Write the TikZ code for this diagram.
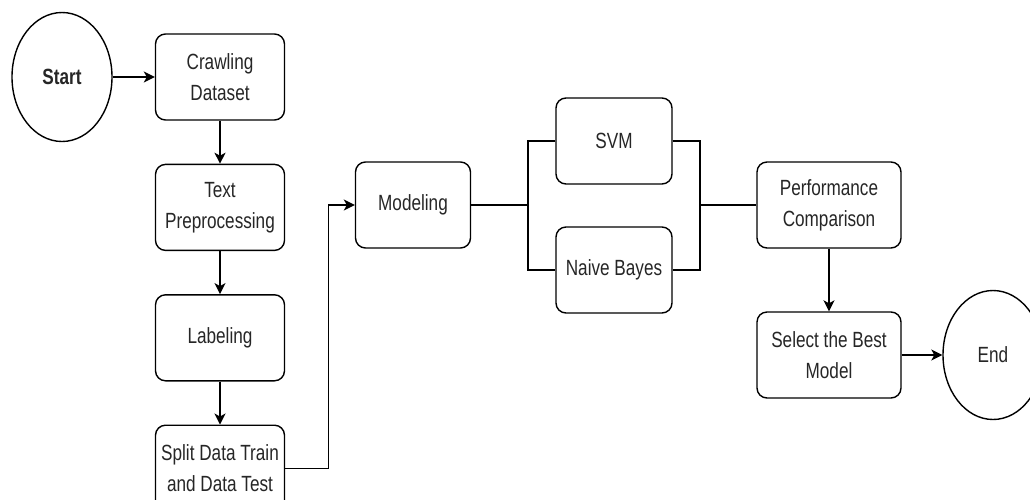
\documentclass[tikz,border=0pt]{standalone}
\usepackage{fontspec}
\setmainfont[FakeStretch=0.78]{Liberation Sans}
\usetikzlibrary{positioning,arrows.meta,shapes.geometric}

\tikzset{
  box/.style={draw, line width=1.4pt, rounded corners=10pt, minimum width=129pt,
    minimum height=86pt, align=center, inner sep=2pt, text=black!85,
    font=\fontsize{22}{31}\selectfont},
  terminal/.style={ellipse, draw, line width=1.4pt, minimum width=100pt,
    minimum height=129pt, inner sep=0pt, text=black!85,
    font=\fontsize{22}{31}\selectfont},
  link/.style={line width=1.4pt},
  flow/.style={link, -{Stealth[length=11pt,width=11pt,inset=3pt]}},
}

\begin{document}
\begin{tikzpicture}[x=1pt, y=-1pt]
    \clip (0,0) rectangle (1030,499);

    % Start and data preparation
    \node[terminal] (start) at (62,77) {\bfseries Start};
    \node[box] (crawl) at (220,77) {Crawling\\Dataset};
    \node[box, below=43pt of crawl] (prep) {Text\\Preprocessing};
    \node[box, below=43pt of prep] (label) {Labeling};
    \node[box, below=43pt of label] (split) {Split Data Train\\and Data Test};

    % Modeling and the two classifiers
    \node[box, minimum width=115pt] (model) at (413,205) {Modeling};
    \node[box, minimum width=116pt] (svm) at (614,141) {SVM};
    \node[box, minimum width=116pt] (nb) at (614,270) {Naive Bayes};

    % Evaluation and end
    \node[box, minimum width=144pt] (perf) at (829,205) {Performance\\Comparison};
    \node[box, minimum width=144pt] (best) at (829,355) {Select the Best\\Model};
    \node[terminal] (end) at (993,355) {End};

    \coordinate (forkL) at (528,205);
    \coordinate (forkR) at (700,205);

    % Connectors
    \draw[flow] (start) -- (crawl);
    \draw[flow] (crawl) -- (prep);
    \draw[flow] (prep) -- (label);
    \draw[flow] (label) -- (split);
    \draw[flow] (split.east) -- ++(43,0) |- (model.west);
    \draw[link] (model.east) -- (forkL);
    \draw[link] (svm.west) -| (forkL) |- (nb.west);
    \draw[link] (svm.east) -| (forkR) |- (nb.east);
    \draw[link] (forkR) -- (perf.west);
    \draw[flow] (perf) -- (best);
    \draw[flow] (best) -- (end);
\end{tikzpicture}
\end{document}
